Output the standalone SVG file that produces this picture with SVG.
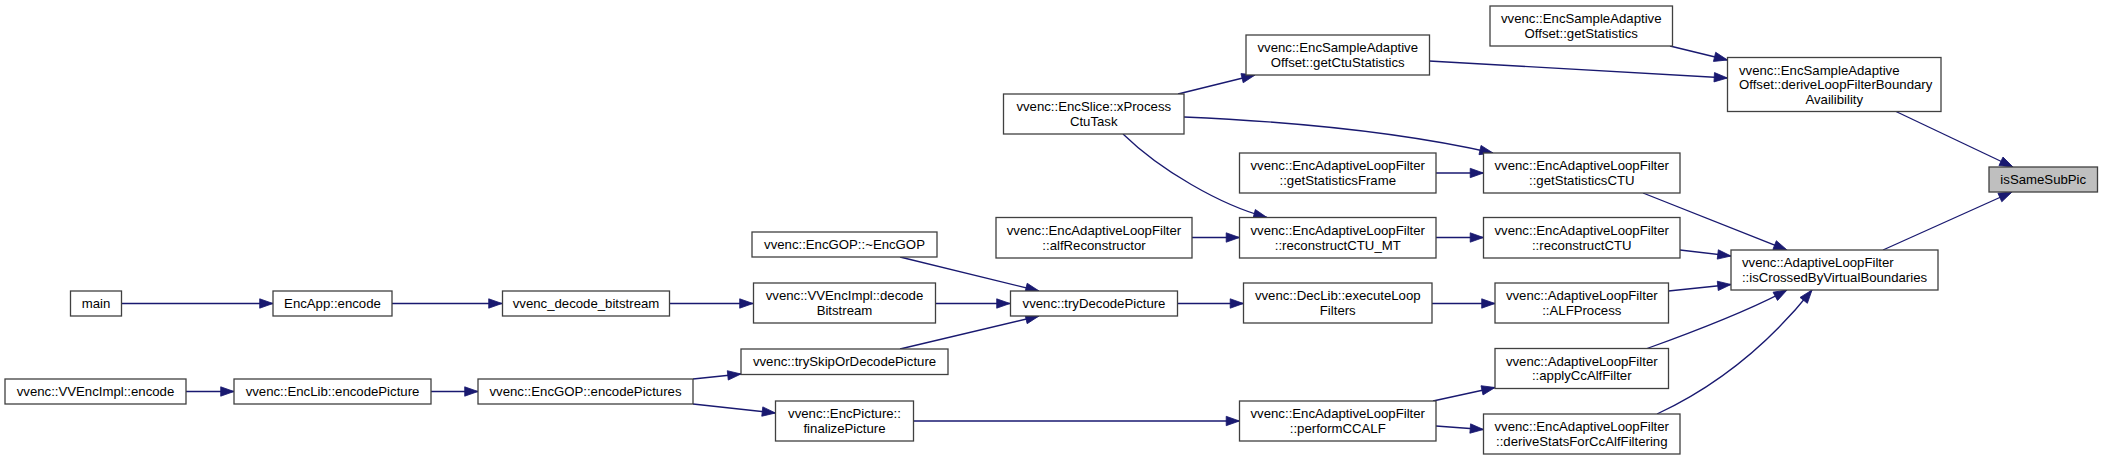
<svg xmlns="http://www.w3.org/2000/svg" width="2103" height="460" viewBox="0 0 2103 460">
<style>
.n rect{fill:#ffffff;stroke:#404040;stroke-width:1.3}
.n.hl rect{fill:#bfbfbf}
.n text{font-family:"Liberation Sans",Arial,sans-serif;font-size:13.2px;fill:#000000;text-anchor:middle}
.n text.l{text-anchor:start}
.e path{fill:none;stroke:#191970;stroke-width:1.3;marker-end:url(#ah)}
</style>
<defs>
<marker id="ah" markerUnits="userSpaceOnUse" markerWidth="14" markerHeight="10" viewBox="0 0 14 10" refX="13.3" refY="4.7" orient="auto" overflow="visible">
<path d="M0,0 L13.3,4.7 L0,9.4 z" fill="#191970" stroke="#191970" stroke-width="0.8"/>
</marker>
</defs>
<rect x="0" y="0" width="2103" height="460" fill="#ffffff"/>
<g id="edges" class="e">
<path d="M121,303.5 L273,303.5"/>
<path d="M392,303.5 L502,303.5"/>
<path d="M669,303.5 L753,303.5"/>
<path d="M935,303.5 L1010,303.5"/>
<path d="M900,257 L1039,291"/>
<path d="M900,349 L1039,316"/>
<path d="M186,391.5 L234,391.5"/>
<path d="M431,391.5 L478,391.5"/>
<path d="M693,379 L741,374"/>
<path d="M693,404 L775.5,413"/>
<path d="M913,421 L1239.5,421"/>
<path d="M1178,94 L1255,75"/>
<path d="M1184,117 Q1370,125 1493,153"/>
<path d="M1123,134 C1160,170 1220,205 1267,217.5"/>
<path d="M1429,61 L1727.5,78"/>
<path d="M1670,46 L1727.5,60"/>
<path d="M1896,111.5 L2013,167"/>
<path d="M1883,250 L2012,192"/>
<path d="M1436,173 L1483.5,173"/>
<path d="M1192,237.5 L1239.5,237.5"/>
<path d="M1436,237.5 L1483.5,237.5"/>
<path d="M1643,193 L1787,250"/>
<path d="M1680,250 L1731,256"/>
<path d="M1177.5,303.5 L1243.5,303.5"/>
<path d="M1432,303.5 L1495,303.5"/>
<path d="M1668.5,291 L1731,284.5"/>
<path d="M1433,401 L1495,387.5"/>
<path d="M1436,426 L1483.5,429.5"/>
<path d="M1647,348.5 C1690,333 1750,310 1787,290"/>
<path d="M1657,414 C1730,380 1780,330 1812,290"/>
</g>
<g id="n_main" class="n"><rect x="70.5" y="291" width="51" height="25"/><text x="96" y="308">main</text></g>
<g id="n_encapp_encode" class="n"><rect x="273" y="291" width="119" height="25"/><text x="332.5" y="308">EncApp::encode</text></g>
<g id="n_vvenc_decode_bitstream" class="n"><rect x="502.5" y="291" width="167" height="25"/><text x="586" y="308">vvenc_decode_bitstream</text></g>
<g id="n_vvencimpl_decodebitstream" class="n"><rect x="753.5" y="283" width="182" height="40"/><text x="844.5" y="300.3">vvenc::VVEncImpl::decode</text><text x="844.5" y="314.8">Bitstream</text></g>
<g id="n_encgop_dtor" class="n"><rect x="752" y="232" width="185" height="25"/><text x="844.5" y="249">vvenc::EncGOP::~EncGOP</text></g>
<g id="n_tryskip" class="n"><rect x="741" y="349" width="207" height="25.5"/><text x="844.5" y="366.2">vvenc::trySkipOrDecodePicture</text></g>
<g id="n_vvencimpl_encode" class="n"><rect x="5" y="379" width="181" height="25"/><text x="95.5" y="396">vvenc::VVEncImpl::encode</text></g>
<g id="n_enclib_encodepicture" class="n"><rect x="234" y="379" width="197" height="25"/><text x="332.5" y="396">vvenc::EncLib::encodePicture</text></g>
<g id="n_encgop_encodepictures" class="n"><rect x="478" y="379" width="215" height="25"/><text x="585.5" y="396">vvenc::EncGOP::encodePictures</text></g>
<g id="n_finalizepicture" class="n"><rect x="775.5" y="401" width="138" height="40"/><text x="844.5" y="418.3">vvenc::EncPicture::</text><text x="844.5" y="432.8">finalizePicture</text></g>
<g id="n_trydecodepicture" class="n"><rect x="1010.5" y="291" width="167" height="25"/><text x="1094" y="308">vvenc::tryDecodePicture</text></g>
<g id="n_xprocessctutask" class="n"><rect x="1003.5" y="94" width="180.5" height="40"/><text x="1093.75" y="111.3">vvenc::EncSlice::xProcess</text><text x="1093.75" y="125.8">CtuTask</text></g>
<g id="n_alfreconstructor" class="n"><rect x="996" y="217.5" width="196" height="40.5"/><text x="1094" y="235">vvenc::EncAdaptiveLoopFilter</text><text x="1094" y="249.5">::alfReconstructor</text></g>
<g id="n_getctustatistics" class="n"><rect x="1246" y="35" width="183.5" height="40"/><text x="1337.75" y="52.3">vvenc::EncSampleAdaptive</text><text x="1337.75" y="66.8">Offset::getCtuStatistics</text></g>
<g id="n_getstatisticsframe" class="n"><rect x="1239.5" y="153" width="196.5" height="40"/><text x="1337.75" y="170.3">vvenc::EncAdaptiveLoopFilter</text><text x="1337.75" y="184.8">::getStatisticsFrame</text></g>
<g id="n_reconstructctu_mt" class="n"><rect x="1239.5" y="217.5" width="196.5" height="40.5"/><text x="1337.75" y="235">vvenc::EncAdaptiveLoopFilter</text><text x="1337.75" y="249.5">::reconstructCTU_MT</text></g>
<g id="n_executeloopfilters" class="n"><rect x="1243.5" y="283" width="188.5" height="40"/><text x="1337.75" y="300.3">vvenc::DecLib::executeLoop</text><text x="1337.75" y="314.8">Filters</text></g>
<g id="n_performccalf" class="n"><rect x="1239.5" y="401" width="196.5" height="40"/><text x="1337.75" y="418.3">vvenc::EncAdaptiveLoopFilter</text><text x="1337.75" y="432.8">::performCCALF</text></g>
<g id="n_getstatistics" class="n"><rect x="1490" y="6" width="182.5" height="40"/><text x="1581.25" y="23.3">vvenc::EncSampleAdaptive</text><text x="1581.25" y="37.8">Offset::getStatistics</text></g>
<g id="n_getstatisticsctu" class="n"><rect x="1483.5" y="153" width="196.5" height="40"/><text x="1581.75" y="170.3">vvenc::EncAdaptiveLoopFilter</text><text x="1581.75" y="184.8">::getStatisticsCTU</text></g>
<g id="n_reconstructctu" class="n"><rect x="1483.5" y="217.5" width="196.5" height="40.5"/><text x="1581.75" y="235">vvenc::EncAdaptiveLoopFilter</text><text x="1581.75" y="249.5">::reconstructCTU</text></g>
<g id="n_alfprocess" class="n"><rect x="1495" y="283" width="173.5" height="40"/><text x="1581.75" y="300.3">vvenc::AdaptiveLoopFilter</text><text x="1581.75" y="314.8">::ALFProcess</text></g>
<g id="n_applyccalffilter" class="n"><rect x="1495" y="348.5" width="173.5" height="40"/><text x="1581.75" y="365.8">vvenc::AdaptiveLoopFilter</text><text x="1581.75" y="380.3">::applyCcAlfFilter</text></g>
<g id="n_derivestatsforccalf" class="n"><rect x="1483.5" y="414" width="196.5" height="40"/><text x="1581.75" y="431.3">vvenc::EncAdaptiveLoopFilter</text><text x="1581.75" y="445.8">::deriveStatsForCcAlfFiltering</text></g>
<g id="n_deriveloopfilterboundary" class="n"><rect x="1727.5" y="57.5" width="213.5" height="54"/><text class="l" x="1739" y="74.5">vvenc::EncSampleAdaptive</text><text class="l" x="1739" y="89">Offset::deriveLoopFilterBoundary</text><text x="1834.25" y="103.5">Availibility</text></g>
<g id="n_iscrossed" class="n"><rect x="1731" y="250" width="207" height="40"/><text class="l" x="1742" y="267.3">vvenc::AdaptiveLoopFilter</text><text x="1834.5" y="281.8">::isCrossedByVirtualBoundaries</text></g>
<g id="n_issamesubpic" class="n hl"><rect x="1989" y="167" width="108.5" height="25"/><text x="2043.25" y="184">isSameSubPic</text></g>
</svg>
